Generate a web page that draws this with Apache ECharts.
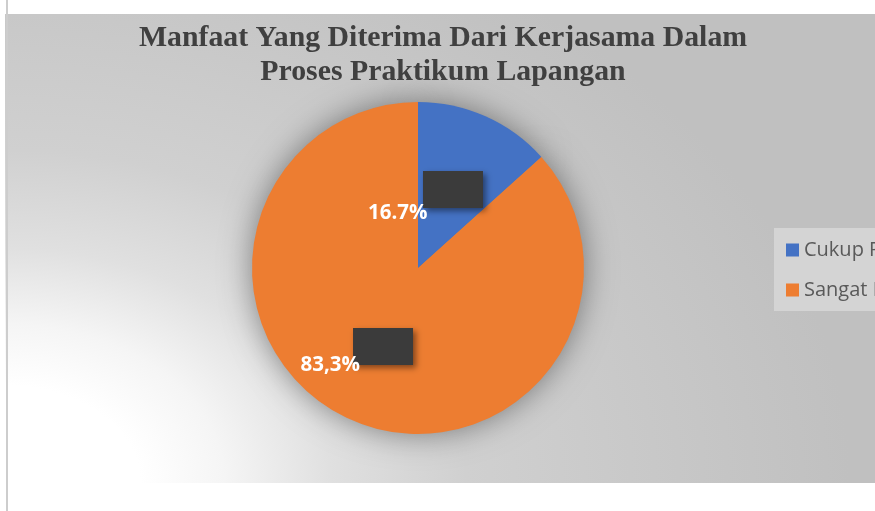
<!DOCTYPE html>
<html>
<head>
<meta charset="utf-8">
<title>Manfaat Yang Diterima Dari Kerjasama</title>
<script src="https://cdn.jsdelivr.net/npm/echarts@6/dist/echarts.min.js"></script>
<style>
  html, body { margin: 0; padding: 0; background: #ffffff; }
  #chart { width: 875px; height: 511px; }
</style>
</head>
<body>
<div id="chart"></div>
<script>
/* Pie — Manfaat Yang Diterima Dari Kerjasama */
var categories = ['Cukup Puas', 'Sangat Puas'];
var counts = [2, 13];
var labelTexts = ['16.7%', '83,3%'];
var colors = ['#4472C4', '#ED7D31'];

(function () {
  'use strict';
  var container = document.getElementById('chart');
  var chart = echarts.init(container, null, { renderer: 'canvas' });

  function makeData(withColor) {
    return categories.map(function (name, i) {
      var d = { name: name, value: counts[i] };
      if (withColor) d.itemStyle = { color: colors[i] };
      return d;
    });
  }

  var center = [418, 268];
  var radius = 166;

  // elliptical background fade from the bottom-left corner
  var bgW = 870, bgH = 469, stretch = 650 / 469;

  var option = {
    animation: false,
    legend: {
      orient: 'vertical',
      left: 774,
      top: 228,
      padding: [12, 30, 11, 12],
      itemGap: 20,
      itemWidth: 13,
      itemHeight: 13,
      icon: 'rect',
      backgroundColor: '#d4d4d4',
      data: categories,
      textStyle: { color: '#595959', fontFamily: 'Open Sans', fontSize: 20 }
    },
    title: {
      text: 'Manfaat Yang Diterima Dari Kerjasama Dalam\nProses Praktikum Lapangan',
      left: 443,
      top: 21,
      padding: 0,
      textAlign: 'center',
      textStyle: {
        fontFamily: 'Liberation Serif',
        fontWeight: 'bold',
        fontSize: 29.8,
        lineHeight: 34,
        color: '#404040'
      }
    },
    graphic: [
      {
        id: 'bg',
        type: 'rect',
        z: -10,
        silent: true,
        x: 5,
        y: 483,
        scaleX: stretch,
        shape: { x: 0, y: -bgH, width: bgW / stretch, height: bgH },
        style: {
          fill: {
            type: 'radial', global: true, x: 0, y: 0, r: bgH * 1.3,
            colorStops: [
              { offset: 0, color: '#ffffff' },
              { offset: 0.16, color: '#ffffff' },
              { offset: 0.26, color: '#f5f5f5' },
              { offset: 0.385, color: '#e0e0e0' },
              { offset: 0.546, color: '#d0d0d0' },
              { offset: 0.769, color: '#c8c8c8' },
              { offset: 1, color: '#c0c0c0' }
            ]
          }
        }
      },
      {
        id: 'border',
        type: 'line',
        z: 10,
        silent: true,
        shape: { x1: 7, y1: 0, x2: 7, y2: 511 },
        style: { stroke: '#cdcdcd', lineWidth: 2 }
      }
    ],
    series: [
      {
        // main slices, carrying the dark label boxes
        type: 'pie',
        z: 2,
        center: center,
        radius: radius,
        startAngle: 90,
        clockwise: true,
        data: makeData(true),
        labelLine: { show: false },
        label: {
          show: true,
          position: 'inside',
          formatter: ' ',
          width: 60,
          height: 37,
          backgroundColor: '#3b3b3b',
          shadowColor: 'rgba(0,0,0,0.45)',
          shadowBlur: 6,
          shadowOffsetX: 3,
          shadowOffsetY: 3
        },
        emphasis: { disabled: true }
      },
      {
        // soft glow under the pie
        type: 'pie',
        z: 1,
        silent: true,
        center: center,
        radius: radius - 1,
        startAngle: 90,
        data: makeData(false),
        label: { show: false },
        labelLine: { show: false },
        itemStyle: {
          color: '#909090',
          shadowBlur: 32,
          shadowColor: 'rgba(0,0,0,0.45)'
        },
        emphasis: { disabled: true }
      }
    ]
  };

  chart.setOption(option);

  // percentage texts, placed from the pie's own sector layout
  var pieData = chart.getModel().getSeriesByIndex(0).getData();
  var texts = [];
  pieData.each(function (i) {
    var l = pieData.getItemLayout(i);
    var mid = (l.startAngle + l.endAngle) / 2;
    var rr = (l.r + (l.r0 || 0)) / 2;
    texts.push({
      id: 'pct' + i,
      type: 'text',
      z: 100,
      silent: true,
      x: l.cx + rr * Math.cos(mid) - 54,
      y: l.cy + rr * Math.sin(mid) + 21,
      style: {
        text: labelTexts[i],
        fill: '#ffffff',
        font: 'bold 20.5px "Open Sans"',
        align: 'center',
        verticalAlign: 'middle'
      }
    });
  });
  chart.setOption({ graphic: texts });

  window.addEventListener('resize', function () { chart.resize(); });
})();
</script>
</body>
</html>
